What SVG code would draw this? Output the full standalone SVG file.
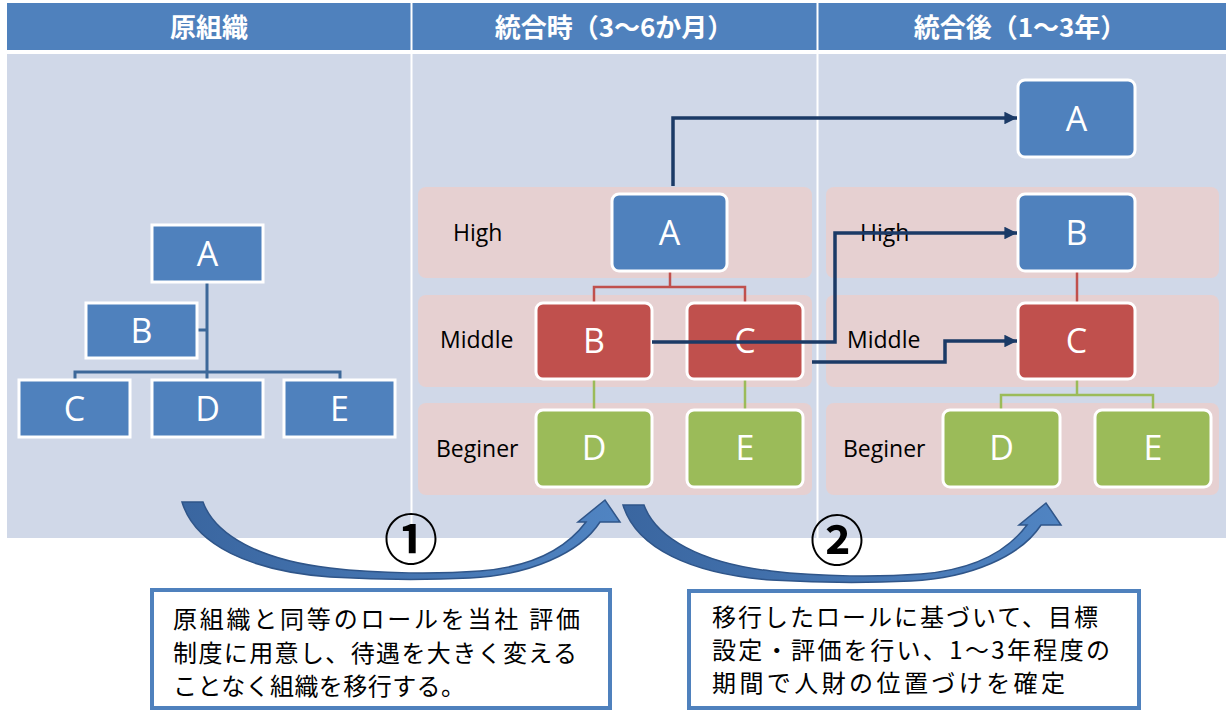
<svg xmlns="http://www.w3.org/2000/svg" width="1226" height="712" viewBox="0 0 1226 712">
<style>
.hdr{font-family:"Noto Sans CJK JP","Noto Sans",sans-serif;font-weight:bold;font-size:26px;fill:#fff;text-anchor:middle}
.lbl{font-family:"Open Sans","Liberation Sans",sans-serif;font-size:23px;fill:#000}
.nt{font-family:"Open Sans","Liberation Sans",sans-serif;font-size:34px;fill:#fff;text-anchor:middle}
.blue{fill:#4F81BD;stroke:#fff;stroke-width:3}
.red{fill:#C0504D;stroke:#fff;stroke-width:3}
.green{fill:#9BBB59;stroke:#fff;stroke-width:3}
.band{fill:#E6D0D1}
.org{fill:none;stroke:#3D6899;stroke-width:3}
.rl{fill:none;stroke:#C0504D;stroke-width:2.5}
.gl{fill:none;stroke:#9BBB59;stroke-width:2.5}
.nav{fill:none;stroke:#1B3A66;stroke-width:3.5;marker-end:url(#ah)}
.box{fill:#fff;stroke:#4F81BD;stroke-width:4}
.bt{font-family:"Noto Sans CJK JP","Noto Sans",sans-serif;font-size:24px;fill:#000}
.num{font-family:"Noto Sans CJK JP","DejaVu Sans",sans-serif;font-weight:bold;font-size:54px;fill:#000;text-anchor:middle}
.carr{fill:url(#cg);stroke:#2F5589;stroke-width:1.5}
</style>
<defs>
<marker id="ah" viewBox="0 0 10 10" refX="10" refY="5" markerWidth="3.6" markerHeight="3.6" orient="auto" markerUnits="strokeWidth">
<path d="M0,0 L10,5 L0,10 Z" fill="#1B3A66"/>
</marker>
<linearGradient id="cg" x1="0" y1="0" x2="1" y2="0">
<stop offset="0" stop-color="#3A66A0"/>
<stop offset="1" stop-color="#5084C2"/>
</linearGradient>
<path id="curv" d="M182,502 L203,502 C215,535 260,560 330,568 C380,574 440,574 480,571 C530,567 565,550 586,522 L578,522 L605,500 L620,522 L600,522 C580,553 530,575 470,578 C430,580 380,580 330,577 C250,571 195,545 182,502 Z"/>
</defs>

<g id="background">
<rect x="7" y="3" width="1219" height="47" fill="#4F81BD"/>
<rect x="7" y="54" width="1219" height="484" fill="#D0D8E8"/>
<line x1="411.5" y1="3" x2="411.5" y2="538" stroke="#fff" stroke-width="2"/>
<line x1="817.5" y1="3" x2="817.5" y2="538" stroke="#fff" stroke-width="2"/>
<text class="hdr" x="209" y="37">原組織</text>
<text class="hdr" x="614" y="37">統合時（3～6か月）</text>
<text class="hdr" x="1020" y="37">統合後（1～3年）</text>
</g>

<g id="bands">
<rect class="band" x="418" y="187" width="394" height="91" rx="8"/>
<rect class="band" x="418" y="295" width="394" height="92" rx="8"/>
<rect class="band" x="418" y="403" width="394" height="92" rx="8"/>
<rect class="band" x="826" y="187" width="393" height="91" rx="8"/>
<rect class="band" x="826" y="295" width="393" height="92" rx="8"/>
<rect class="band" x="826" y="403" width="393" height="92" rx="8"/>
<text class="lbl" x="453" y="241">High</text>
<text class="lbl" x="440" y="348">Middle</text>
<text class="lbl" x="436" y="457">Beginer</text>
<text class="lbl" x="860" y="241">High</text>
<text class="lbl" x="847" y="348">Middle</text>
<text class="lbl" x="843" y="457">Beginer</text>
</g>

<g id="tree-connectors">
<path class="org" d="M207,282 V372 M75,380 V372 H340 V380 M207,372 V380 M197,330 H207"/>
<path class="rl" d="M670,271 V287 M594,303 V287 H745 V303"/>
<path class="gl" d="M594,379 V410 M745,379 V410"/>
<path class="rl" d="M1077,271 V303"/>
<path class="gl" d="M1077,379 V395 M1001,410 V395 H1153 V410"/>
</g>

<g id="orig-A"><rect class="blue" x="152" y="225" width="111" height="57"/><text class="nt" x="207.5" y="266">A</text></g>
<g id="orig-B"><rect class="blue" x="86" y="303" width="111" height="55"/><text class="nt" x="141.5" y="343">B</text></g>
<g id="orig-C"><rect class="blue" x="19" y="380" width="111" height="57"/><text class="nt" x="74.5" y="421">C</text></g>
<g id="orig-D"><rect class="blue" x="152" y="380" width="111" height="57"/><text class="nt" x="207.5" y="421">D</text></g>
<g id="orig-E"><rect class="blue" x="284" y="380" width="111" height="57"/><text class="nt" x="339.5" y="421">E</text></g>

<g id="mid-A"><rect class="blue" x="612" y="194" width="115" height="77" rx="7"/><text class="nt" x="669.5" y="245">A</text></g>
<g id="mid-B"><rect class="red" x="536" y="303" width="116" height="76" rx="7"/><text class="nt" x="594" y="353">B</text></g>
<g id="mid-C"><rect class="red" x="687" y="303" width="116" height="76" rx="7"/><text class="nt" x="745" y="353">C</text></g>
<g id="mid-D"><rect class="green" x="536" y="410" width="116" height="77" rx="7"/><text class="nt" x="594" y="460">D</text></g>
<g id="mid-E"><rect class="green" x="687" y="410" width="116" height="77" rx="7"/><text class="nt" x="745" y="460">E</text></g>

<g id="new-A"><rect class="blue" x="1018" y="80" width="117" height="77" rx="7"/><text class="nt" x="1076.5" y="131">A</text></g>
<g id="new-B"><rect class="blue" x="1018" y="194" width="117" height="77" rx="7"/><text class="nt" x="1076.5" y="245">B</text></g>
<g id="new-C"><rect class="red" x="1018" y="303" width="117" height="76" rx="7"/><text class="nt" x="1076.5" y="353">C</text></g>
<g id="new-D"><rect class="green" x="943" y="410" width="117" height="77" rx="7"/><text class="nt" x="1001.5" y="460">D</text></g>
<g id="new-E"><rect class="green" x="1095" y="410" width="116" height="77" rx="7"/><text class="nt" x="1153" y="460">E</text></g>

<g id="transfer-connectors">
<path class="nav" d="M673,186 V118 H1017"/>
<path class="nav" d="M652,342 H835 V233 H1017"/>
<path class="nav" d="M812,362 H945 V341 H1017"/>
</g>

<g id="step1">
<use href="#curv" class="carr"/>
<text class="num" x="411" y="560">①</text>
</g>
<g id="step2">
<use href="#curv" class="carr" transform="translate(441,3)"/>
<text class="num" x="837" y="561">②</text>
</g>

<g id="note1">
<rect class="box" x="152" y="590" width="458" height="118"/>
<text class="bt" x="173" y="628" textLength="407" lengthAdjust="spacing">原組織と同等のロールを当社 評価</text>
<text class="bt" x="173" y="662" textLength="404" lengthAdjust="spacing">制度に用意し、待遇を大きく変える</text>
<text class="bt" x="173" y="695" textLength="292" lengthAdjust="spacing">ことなく組織を移行する。</text>
</g>
<g id="note2">
<rect class="box" x="689" y="591" width="450" height="117"/>
<text class="bt" x="712" y="626" textLength="386" lengthAdjust="spacing">移行したロールに基づいて、目標</text>
<text class="bt" x="712" y="659" textLength="398" lengthAdjust="spacing">設定・評価を行い、1～3年程度の</text>
<text class="bt" x="712" y="692" textLength="353" lengthAdjust="spacing">期間で人財の位置づけを確定</text>
</g>
</svg>
